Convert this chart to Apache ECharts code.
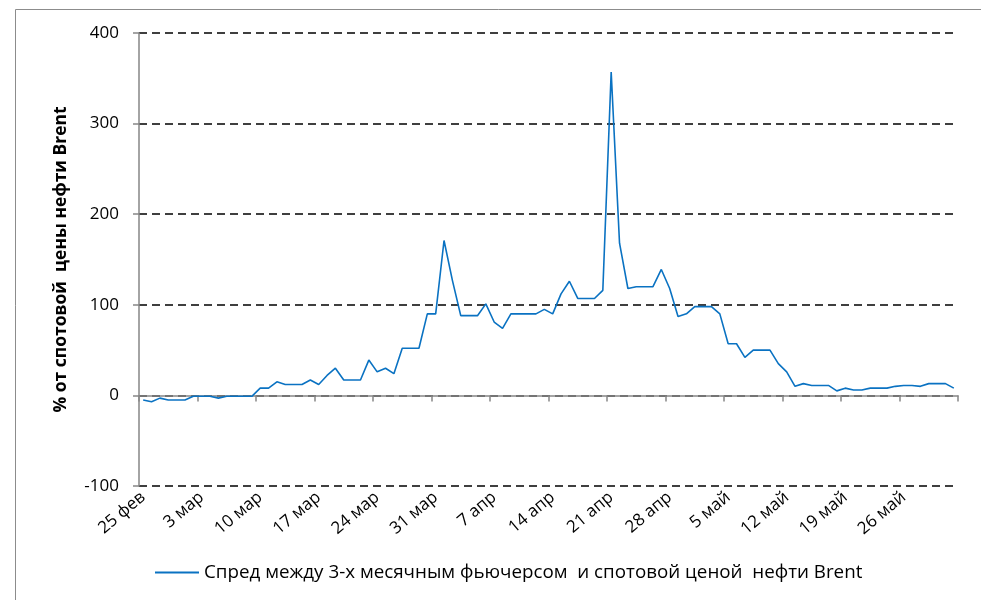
<!DOCTYPE html>
<html>
<head>
<meta charset="utf-8">
<script src="https://cdn.jsdelivr.net/npm/echarts@6/dist/echarts.min.js"></script>
<style>
html,body{margin:0;padding:0;background:#fff;}
#chart{width:981px;height:600px;}
</style>
</head>
<body>
<div id="chart"></div>
<script>
// Daily dates 25 Feb – 1 Jun (2020)
const monthNames = ['янв','фев','мар','апр','май','июн'];
const startDate = new Date(2020, 1, 25);
const dayCount = 98;
const categories = [];
for (let i = 0; i < dayCount; i++) {
  const d = new Date(startDate.getTime());
  d.setDate(d.getDate() + i);
  categories.push(d.getDate() + ' ' + monthNames[d.getMonth()]);
}

const seriesName = 'Спред между 3-х месячным фьючерсом  и спотовой ценой  нефти Brent';
const spreadValues = [
  -5, -7, -3, -5, -5, -5, -1, -1, -1, -3,
  -1, -1, -1, -1, 8, 8, 15, 12, 12, 12,
  17, 12, 22, 30, 17, 17, 17, 39, 26, 30,
  24, 52, 52, 52, 90, 90, 171, 127, 88, 88,
  88, 101, 81, 74, 90, 90, 90, 90, 95, 90,
  112, 126, 107, 107, 107, 116, 357, 168, 118, 120,
  120, 120, 139, 118, 87, 90, 98, 98, 98, 90,
  57, 57, 42, 50, 50, 50, 35, 26, 10, 13,
  11, 11, 11, 5, 8, 6, 6, 8, 8, 8,
  10, 11, 11, 10, 13, 13, 13, 8
];
const yTicks = [-100, 0, 100, 200, 300, 400];
const yTitle = '% от спотовой  цены нефти Brent';

const FONT = 'Open Sans';
const chart = echarts.init(document.getElementById('chart'), null, {renderer: 'canvas'});
chart.setOption({
  animation: false,
  backgroundColor: '#fff',
  textStyle: {fontFamily: FONT},
  graphic: [{
    type: 'rect',
    shape: {x: 15.5, y: 9.5, width: 1100, height: 800},
    style: {fill: 'none', stroke: '#8c8c8c', lineWidth: 1},
    silent: true
  }],
  grid: {left: 139, right: 23, top: 33, bottom: 114, containLabel: false},
  legend: {
    bottom: 13,
    left: 150,
    itemWidth: 44,
    itemHeight: 2,
    icon: 'rect',
    itemGap: 6,
    textStyle: {fontFamily: FONT, fontSize: 18.8, color: '#000'},
    data: [seriesName]
  },
  xAxis: {
    type: 'category',
    data: categories,
    boundaryGap: true,
    axisLine: {onZero: true, lineStyle: {color: '#868686', width: 1.5}},
    axisTick: {show: true, interval: 6, length: 6, lineStyle: {color: '#868686', width: 1.5}},
    axisLabel: {
      interval: 6,
      rotate: 40,
      fontFamily: FONT,
      fontSize: 17,
      color: '#000',
      margin: 9
    },
    splitLine: {show: false}
  },
  yAxis: {
    type: 'value',
    min: yTicks[0],
    max: yTicks[yTicks.length - 1],
    interval: 100,
    name: yTitle,
    nameLocation: 'middle',
    nameRotate: 90,
    nameGap: 69,
    nameTextStyle: {fontFamily: FONT, fontSize: 17.5, fontWeight: 'bold', color: '#000'},
    axisLine: {show: true, lineStyle: {color: '#868686', width: 1.5}},
    axisTick: {show: true, length: 6, lineStyle: {color: '#868686', width: 1.5}},
    axisLabel: {fontFamily: FONT, fontSize: 17, color: '#000', margin: 20},
    splitLine: {show: true, lineStyle: {color: '#000', type: [8, 5], width: 1.5}}
  },
  series: [{
    name: seriesName,
    type: 'line',
    data: spreadValues,
    symbol: 'none',
    lineStyle: {color: '#0A72C2', width: 1.6},
    itemStyle: {color: '#0A72C2'},
    z: 3
  }]
});
</script>
</body>
</html>
